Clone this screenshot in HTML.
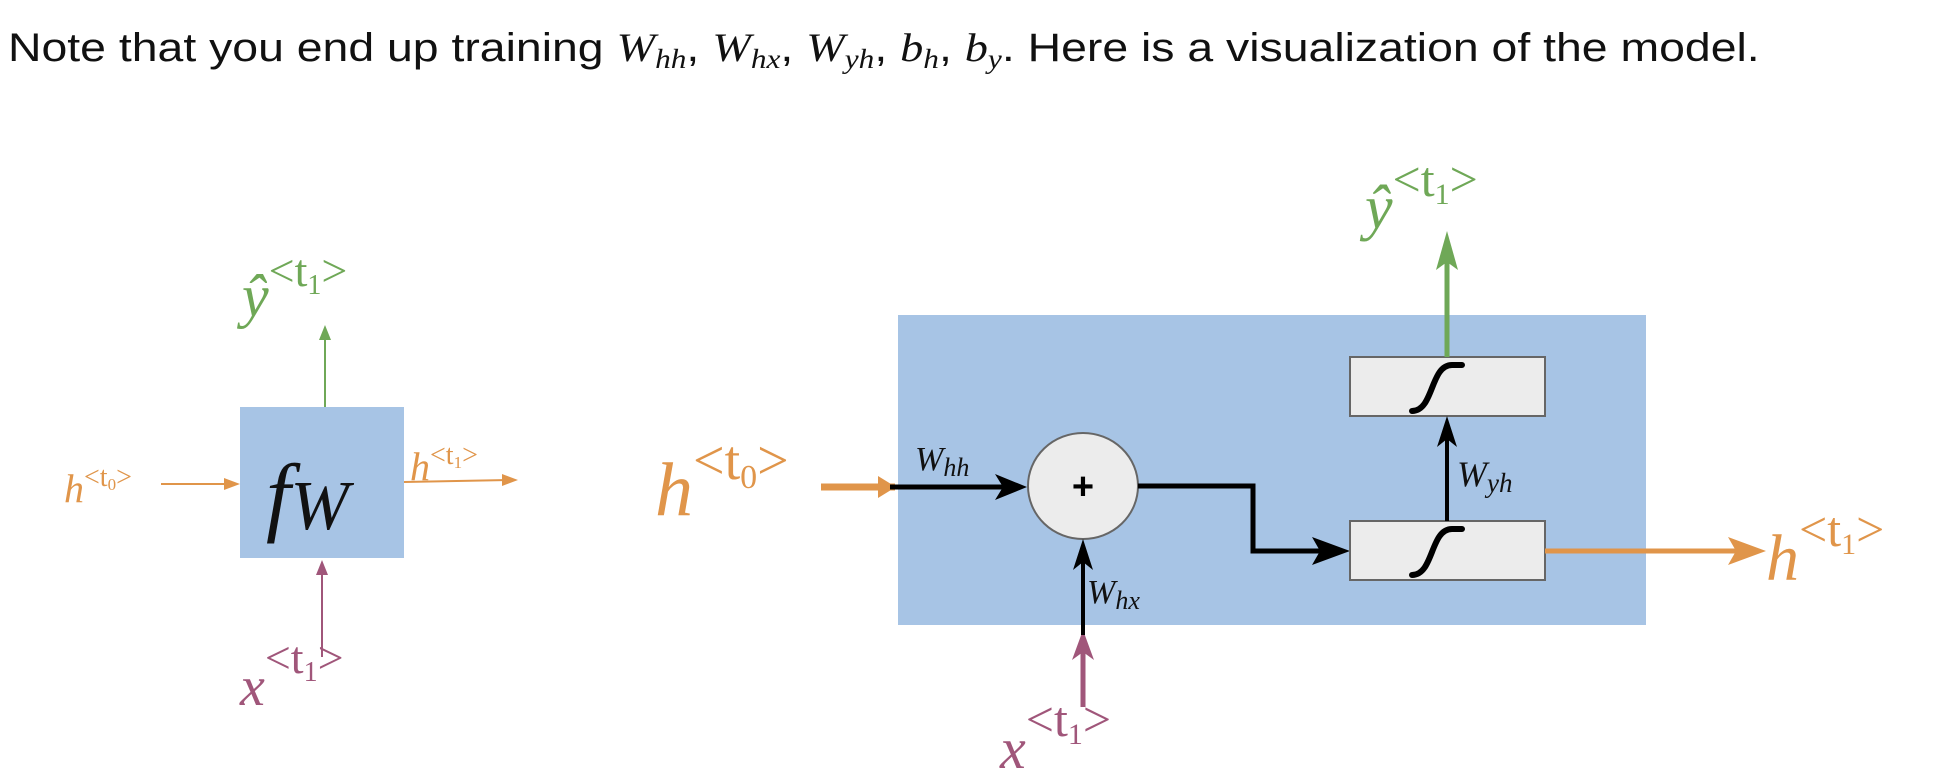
<!DOCTYPE html>
<html><head><meta charset="utf-8"><style>
body{margin:0;width:1935px;height:782px;background:#fff;overflow:hidden}
svg{display:block}
.m{font-family:"Liberation Serif",serif;font-style:italic}
.s{font-family:"Liberation Serif",serif;font-style:normal}
</style></head><body>
<svg width="1935" height="782" viewBox="0 0 1935 782">
<text x="0" y="0" transform="translate(8,61) scale(1.16,1)" font-family="Liberation Sans, sans-serif" font-size="40" fill="#111">Note that you end up training <tspan class="m">W</tspan><tspan class="m" font-size="27" dy="7">hh</tspan><tspan dy="-7">, </tspan><tspan class="m">W</tspan><tspan class="m" font-size="27" dy="7">hx</tspan><tspan dy="-7">, </tspan><tspan class="m">W</tspan><tspan class="m" font-size="27" dy="7">yh</tspan><tspan dy="-7">, </tspan><tspan class="m">b</tspan><tspan class="m" font-size="27" dy="7">h</tspan><tspan dy="-7">, </tspan><tspan class="m">b</tspan><tspan class="m" font-size="27" dy="7">y</tspan><tspan dy="-7">. Here is a visualization of the model.</tspan></text>

<g>
<rect x="240" y="407" width="164" height="151" fill="#a7c4e5"/>
<text x="266" y="525" class="m" font-size="88" fill="#111">f<tspan font-size="70" dy="4">W</tspan></text>
<line x1="325" y1="407" x2="325" y2="333" stroke="#6fa857" stroke-width="2"/>
<path d="M319,340 L325,325 L331,340 z" fill="#6fa857"/>
<text x="242" y="316" class="m" font-size="60" fill="#6fa857">ŷ<tspan class="s" font-size="46" dy="-30">&lt;t</tspan><tspan class="s" font-size="28" dy="8">1</tspan><tspan class="s" font-size="46" dy="-8">&gt;</tspan></text>
<line x1="161" y1="484" x2="232" y2="484" stroke="#e0954a" stroke-width="2"/>
<path d="M224,478 L240,484 L224,490 z" fill="#e0954a"/>
<text x="64" y="502" class="m" font-size="40" fill="#e0954a">h<tspan class="s" font-size="28" dy="-16">&lt;t</tspan><tspan class="s" font-size="17" dy="4">0</tspan><tspan class="s" font-size="28" dy="-4">&gt;</tspan></text>
<line x1="404" y1="482" x2="510" y2="480" stroke="#e0954a" stroke-width="2"/>
<path d="M502,474 L518,480 L502,486 z" fill="#e0954a"/>
<text x="410" y="480" class="m" font-size="40" fill="#e0954a">h<tspan class="s" font-size="28" dy="-16">&lt;t</tspan><tspan class="s" font-size="17" dy="4">1</tspan><tspan class="s" font-size="28" dy="-4">&gt;</tspan></text>
<line x1="322" y1="657" x2="322" y2="568" stroke="#a0567a" stroke-width="2"/>
<path d="M316,575 L322,560 L328,575 z" fill="#a0567a"/>
<text x="240" y="705" class="m" font-size="56" fill="#a0567a">x<tspan class="s" font-size="46" dy="-32">&lt;t</tspan><tspan class="s" font-size="28" dy="8">1</tspan><tspan class="s" font-size="46" dy="-8">&gt;</tspan></text>
</g>

<g>
<rect x="898" y="315" width="748" height="310" fill="#a7c4e5"/>
<line x1="821" y1="487" x2="895" y2="487" stroke="#e0954a" stroke-width="7"/>
<path d="M878,476 L896,487 L878,498 z" fill="#e0954a"/>
<line x1="890" y1="487" x2="1020" y2="487" stroke="#000" stroke-width="5"/>
<path d="M995,474 L1027,487 L995,500 L1003,487 z" fill="#000"/>
<text x="655" y="515" class="m" font-size="76" fill="#e0954a">h<tspan class="s" font-size="56" dy="-36">&lt;t</tspan><tspan class="s" font-size="34" dy="9">0</tspan><tspan class="s" font-size="56" dy="-9">&gt;</tspan></text>
<text x="915" y="470" class="m" font-size="34" fill="#111">W<tspan font-size="26" dy="6">hh</tspan></text>
<ellipse cx="1083" cy="486" rx="55" ry="53" fill="#ececec" stroke="#666" stroke-width="2"/>
<text x="1083" y="499" text-anchor="middle" font-family="Liberation Sans, sans-serif" font-weight="bold" font-size="38" fill="#000">+</text>
<line x1="1083" y1="707" x2="1083" y2="640" stroke="#a0567a" stroke-width="5"/>
<path d="M1072,660 L1083,630 L1094,660 L1083,652 z" fill="#a0567a"/>
<line x1="1083" y1="635" x2="1083" y2="550" stroke="#000" stroke-width="4"/>
<path d="M1073,570 L1083,539 L1093,570 L1083,562 z" fill="#000"/>
<text x="1000" y="768" class="m" font-size="58" fill="#a0567a">x<tspan class="s" font-size="50" dy="-32">&lt;t</tspan><tspan class="s" font-size="30" dy="8">1</tspan><tspan class="s" font-size="50" dy="-8">&gt;</tspan></text>
<text x="1087" y="603" class="m" font-size="34" fill="#111">W<tspan font-size="26" dy="6">hx</tspan></text>
<polyline points="1138,486 1253,486 1253,551 1335,551" fill="none" stroke="#000" stroke-width="5"/>
<path d="M1312,537 L1350,551 L1312,565 L1320,551 z" fill="#000"/>
<rect x="1350" y="521" width="195" height="59" fill="#ececec" stroke="#666" stroke-width="2"/>
<path d="M1412,575 C1434,575 1430,529 1452,529 L1462,529" fill="none" stroke="#000" stroke-width="6" stroke-linecap="round"/>
<rect x="1350" y="357" width="195" height="59" fill="#ececec" stroke="#666" stroke-width="2"/>
<path d="M1412,411 C1434,411 1430,365 1452,365 L1462,365" fill="none" stroke="#000" stroke-width="6" stroke-linecap="round"/>
<line x1="1447" y1="521" x2="1447" y2="430" stroke="#000" stroke-width="4"/>
<path d="M1437,447 L1447,416 L1457,447 L1447,439 z" fill="#000"/>
<text x="1457" y="486" class="m" font-size="36" fill="#111">W<tspan font-size="27" dy="6">yh</tspan></text>
<line x1="1447" y1="357" x2="1447" y2="245" stroke="#6fa857" stroke-width="5"/>
<path d="M1436,270 L1447,231 L1458,270 L1447,262 z" fill="#6fa857"/>
<text x="1365" y="228" class="m" font-size="62" fill="#6fa857">ŷ<tspan class="s" font-size="50" dy="-32">&lt;t</tspan><tspan class="s" font-size="30" dy="8">1</tspan><tspan class="s" font-size="50" dy="-8">&gt;</tspan></text>
<line x1="1545" y1="551" x2="1755" y2="551" stroke="#e0954a" stroke-width="5"/>
<path d="M1728,537 L1766,551 L1728,565 L1736,551 z" fill="#e0954a"/>
<text x="1766" y="580" class="m" font-size="66" fill="#e0954a">h<tspan class="s" font-size="50" dy="-34">&lt;t</tspan><tspan class="s" font-size="30" dy="8">1</tspan><tspan class="s" font-size="50" dy="-8">&gt;</tspan></text>
</g>
</svg>
</body></html>
